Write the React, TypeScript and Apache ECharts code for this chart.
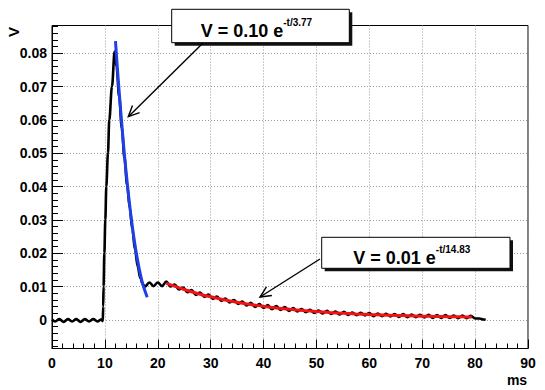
import React, { useEffect, useRef } from 'react';
import * as echarts from 'echarts';

// Measured signal (ms, V)
const signalTime = [
  0.0, 0.6, 1.4, 2.2, 3.0, 3.8, 4.6, 5.4, 6.2, 7.0, 7.8, 8.6, 9.3, 9.6,
  9.68, 9.75, 9.9, 10.08, 10.27, 10.58, 10.83, 11.34, 11.84,
  12.2, 12.7, 13.2, 13.7, 14.2, 14.7, 15.2, 15.7, 16.2, 16.7, 17.2, 17.6,
  18.4, 19.2, 20.0, 20.8,
  21.6, 22.4, 23.2, 24.0, 24.8, 25.6, 26.4, 27.2, 28.0, 28.8, 29.6, 30.4,
  31.2, 32.0, 32.8, 33.6, 34.4, 35.2, 36.0, 36.8, 37.6, 38.4, 39.2, 40.0,
  40.8, 41.6, 42.4, 43.2, 44.0, 44.8, 45.6, 46.4, 47.2, 48.0, 48.8, 49.6,
  50.4, 51.2, 52.0, 52.8, 53.6, 54.4, 55.2, 56.0, 56.8, 57.6, 58.4, 59.2,
  60.0, 60.8, 61.6, 62.4, 63.2, 64.0, 64.8, 65.6, 66.4, 67.2, 68.0, 68.8,
  69.6, 70.4, 71.2, 72.0, 72.8, 73.6, 74.4, 75.2, 76.0, 76.8, 77.6, 78.4,
  79.2, 80.0, 80.8, 81.6, 82.0,
];
const signalVoltage = [
  0.0001, -0.0005, 0.0002, -0.0006, 0.0002, -0.0005, 0.0002, -0.0006, 0.0002, -0.0005, 0.0002, -0.0005, 0.0001, -0.0004,
  0.004, 0.010, 0.020, 0.030, 0.040, 0.050, 0.060, 0.070, 0.0805,
  0.0760, 0.0670, 0.0575, 0.0485, 0.0405, 0.0335, 0.0270, 0.0210, 0.0160, 0.0125, 0.0106, 0.0100,
  0.0112, 0.0101, 0.0112, 0.0101,
  0.0115, 0.0100, 0.0106, 0.0091, 0.0097, 0.0083, 0.0089, 0.0075, 0.0082, 0.0069, 0.0076, 0.0063,
  0.0070, 0.0057, 0.0064, 0.0052, 0.0059, 0.0048, 0.0055, 0.0043, 0.0051, 0.0039, 0.0047, 0.0036,
  0.0044, 0.0032, 0.0041, 0.0030, 0.0038, 0.0027, 0.0035, 0.0025, 0.0032, 0.0023, 0.0030, 0.0021,
  0.0028, 0.0019, 0.0027, 0.0018, 0.0025, 0.0016, 0.0024, 0.0015, 0.0022, 0.0014, 0.0021, 0.0013,
  0.0020, 0.0011, 0.0019, 0.0011, 0.0018, 0.0010, 0.0017, 0.0009, 0.0017, 0.0008, 0.0016, 0.0008,
  0.0015, 0.0007, 0.0015, 0.0006, 0.0014, 0.0006, 0.0014, 0.0006, 0.0013, 0.0005, 0.0013, 0.0005,
  0.0012, 0.0004, 0.0004, 0.0001, 0.0000,
];

// Fast exponential fit (blue)
const fastFitTime = [12.0, 12.5, 13.0, 13.5, 14.0, 14.5, 15.0, 15.5, 16.0, 16.5, 17.0, 17.5, 18.0];
const fastFitVoltage = [0.0836, 0.0725, 0.0625, 0.053, 0.0445, 0.037, 0.0303, 0.0245, 0.0195, 0.0152, 0.0117, 0.009, 0.0068];

// Slow exponential fit (red)
const slowFitTime = [21.6, 23, 25, 27.5, 30, 32.5, 35, 37.5, 40, 42.5, 45, 47.5, 50, 52.5, 55, 57.5, 60, 62.5, 65, 67.5, 70, 72.5, 75, 77.5, 79.4];
const slowFitVoltage = [0.011, 0.01017, 0.0091, 0.00792, 0.00691, 0.00603, 0.00528, 0.00462, 0.00406, 0.00357, 0.00315, 0.00279, 0.00248, 0.00221, 0.00197, 0.00177, 0.00159, 0.00145, 0.00132, 0.00121, 0.00111, 0.00103, 0.00095, 0.00089, 0.00085];

// Axis ticks
const yMajorTicks = [0, 0.01, 0.02, 0.03, 0.04, 0.05, 0.06, 0.07, 0.08];
const yMinorTicks = [
  -0.008, -0.006, -0.004, -0.002, 0.002, 0.004, 0.006, 0.008, 0.012, 0.014, 0.016, 0.018,
  0.022, 0.024, 0.026, 0.028, 0.032, 0.034, 0.036, 0.038, 0.042, 0.044, 0.046, 0.048,
  0.052, 0.054, 0.056, 0.058, 0.062, 0.064, 0.066, 0.068, 0.072, 0.074, 0.076, 0.078,
  0.082, 0.084, 0.086, 0.088,
];

const fastFitLabel = { main: 'V = 0.10 e', sup: '-t/3.77' };
const slowFitLabel = { main: 'V = 0.01 e', sup: '-t/14.83' };
const xTitle = 'ms';
const yTitle = 'V';

const FONT = '"Liberation Sans", Arial, Helvetica, sans-serif';

function pairs(xs: number[], ys: number[]) {
  return xs.map((x, i) => [x, ys[i]]);
}

function box(x: number, y: number, w: number, h: number, tx: number, ty: number, label: { main: string; sup: string }) {
  return [
    { type: 'rect', z: 100, shape: { x: x + 3, y: y + 3, width: w, height: h }, style: { fill: '#111' } },
    { type: 'rect', z: 101, shape: { x, y, width: w, height: h }, style: { fill: '#fff', stroke: '#000', lineWidth: 1 } },
    {
      type: 'text',
      z: 102,
      x: tx,
      y: ty,
      style: {
        text: `{m|${label.main}}{s|${label.sup}}`,
        align: 'left',
        verticalAlign: 'middle',
        fill: '#000',
        rich: {
          m: { fontFamily: FONT, fontWeight: 'bold', fontSize: 18, lineHeight: 22, verticalAlign: 'bottom', fill: '#000' },
          s: { fontFamily: FONT, fontWeight: 'bold', fontSize: 10, lineHeight: 12, verticalAlign: 'top', fill: '#000' },
        },
      },
    },
  ];
}

function arrow(x1: number, y1: number, x2: number, y2: number) {
  const dx = x1 - x2;
  const dy = y1 - y2;
  const len = Math.sqrt(dx * dx + dy * dy);
  const ux = dx / len;
  const uy = dy / len;
  const a = (25 * Math.PI) / 180;
  const L = 12;
  const r1 = [x2 + L * (ux * Math.cos(a) - uy * Math.sin(a)), y2 + L * (ux * Math.sin(a) + uy * Math.cos(a))];
  const r2 = [x2 + L * (ux * Math.cos(a) + uy * Math.sin(a)), y2 + L * (-ux * Math.sin(a) + uy * Math.cos(a))];
  return [
    { type: 'line', z: 103, shape: { x1, y1, x2, y2 }, style: { stroke: '#000', lineWidth: 1.4 } },
    { type: 'polyline', z: 103, shape: { points: [r1, [x2, y2], r2] }, style: { stroke: '#000', lineWidth: 1.4, fill: null } },
  ];
}

export default function App() {
  const ref = useRef<HTMLDivElement>(null);
  useEffect(() => {
    if (!ref.current) return;
    const chart = echarts.init(ref.current, null, { renderer: 'svg' });
    const labelStyle = { color: '#000', fontFamily: FONT, fontWeight: 'bold' as const, fontSize: 14 };
    const splitLine = { show: true, lineStyle: { color: '#9a9a9a', width: 1, type: [1, 2] as number[] } };
    chart.setOption({
      animation: false,
      backgroundColor: '#fff',
      grid: { left: 52, right: 17, top: 25.5, bottom: 41.5, show: true, borderColor: '#000', borderWidth: 1, backgroundColor: 'transparent' },
      xAxis: {
        type: 'value',
        min: 0,
        max: 90,
        interval: 10,
        axisLine: { show: true, onZero: false, lineStyle: { color: '#000', width: 1 } },
        axisTick: { show: true, inside: true, length: 9, lineStyle: { color: '#000' } },
        minorTick: { show: true, splitNumber: 5, length: 5, lineStyle: { color: '#000' } },
        axisLabel: { ...labelStyle, margin: 7 },
        splitLine,
      },
      yAxis: [
        {
          type: 'value',
          min: -0.0086,
          max: 0.0883,
          position: 'left',
          axisLine: { show: true, onZero: false, lineStyle: { color: '#000', width: 1 } },
          axisTick: { show: true, inside: true, length: 11, customValues: yMajorTicks, lineStyle: { color: '#000' } },
          axisLabel: {
            ...labelStyle,
            margin: 5,
            customValues: yMajorTicks,
            formatter: (v: number) => (Math.abs(v) < 1e-9 ? '0' : v.toFixed(2)),
          },
          splitLine,
        },
        {
          type: 'value',
          min: -0.0086,
          max: 0.0883,
          position: 'left',
          axisLine: { show: false },
          axisTick: { show: true, inside: true, length: 6, customValues: yMinorTicks, lineStyle: { color: '#000' } },
          axisLabel: { show: false },
          splitLine: { show: false },
        },
      ],
      series: [
        {
          name: 'signal',
          type: 'line',
          data: pairs(signalTime, signalVoltage),
          showSymbol: false,
          smooth: 0.35,
          smoothMonotone: 'x',
          lineStyle: { color: '#000', width: 2.6 },
          z: 2,
        },
        {
          name: 'fast fit',
          type: 'line',
          data: pairs(fastFitTime, fastFitVoltage),
          showSymbol: false,
          smooth: 0.3,
          lineStyle: { color: '#1f3fe8', width: 3 },
          z: 3,
        },
        {
          name: 'slow fit',
          type: 'line',
          data: pairs(slowFitTime, slowFitVoltage),
          showSymbol: false,
          smooth: 0.3,
          lineStyle: { color: '#f01414', width: 3 },
          z: 3,
        },
      ],
      graphic: [
        {
          type: 'text',
          z: 100,
          x: 13,
          y: 32,
          rotation: Math.PI / 2,
          style: { text: yTitle, fontFamily: FONT, fontWeight: 'bold', fontSize: 15, fill: '#000', align: 'center', verticalAlign: 'middle' },
        },
        {
          type: 'text',
          z: 100,
          x: 517,
          y: 380,
          style: { text: xTitle, fontFamily: FONT, fontWeight: 'bold', fontSize: 14, fill: '#000', align: 'center', verticalAlign: 'middle' },
        },
        ...box(171.7, 9.3, 177.6, 33.4, 200.7, 28.5, fastFitLabel),
        ...arrow(203, 43, 128.3, 116.7),
        ...box(321.7, 237.3, 188.3, 31, 353.3, 255.5, slowFitLabel),
        ...arrow(320, 259, 260, 297),
      ],
    });
    return () => chart.dispose();
  }, []);
  return <div ref={ref} style={{ position: 'fixed', left: 0, top: 0, width: 545, height: 390, background: '#fff' }} />;
}
